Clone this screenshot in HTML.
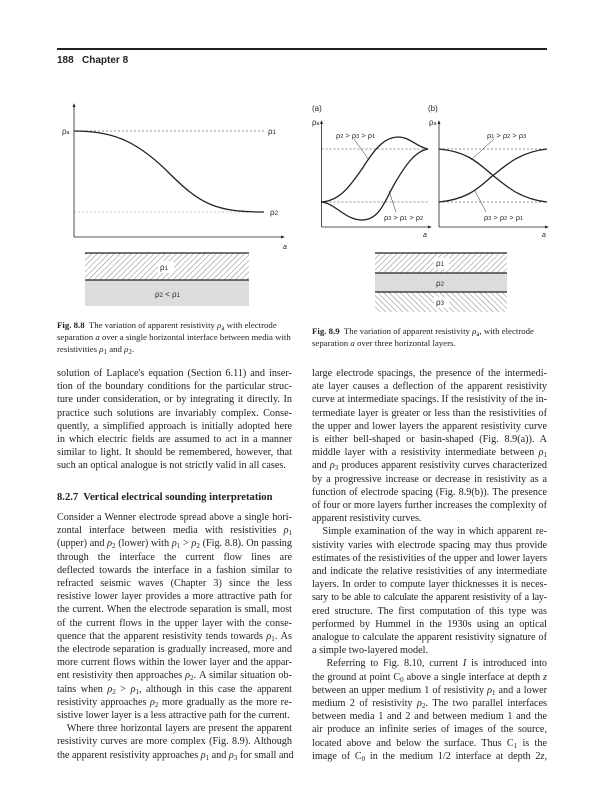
<!DOCTYPE html>
<html><head><meta charset="utf-8"><style>
body{margin:0;background:#fff;width:613px;height:800px;position:relative;overflow:hidden;font-family:"Liberation Serif",serif;color:#222}
.l{position:absolute;width:235px;font-size:10.2px;line-height:13px;white-space:nowrap;text-align:justify;text-align-last:justify;height:13px}
.e{text-align-last:left}
.c{position:absolute;font-size:8.8px;line-height:12px;white-space:nowrap}
sub{font-size:7px;vertical-align:-2px;line-height:0}
i{font-style:italic}
</style></head><body>
<div style="position:absolute;left:57px;top:48px;width:490px;height:1.5px;background:#222"></div>
<div style="position:absolute;left:57px;top:55px;font:bold 10px 'Liberation Sans',sans-serif">188&nbsp;&nbsp;&nbsp;Chapter 8</div>

<svg width="613" height="320" style="position:absolute;left:0;top:0" font-family="Liberation Sans, sans-serif" font-size="8">
<defs>
<pattern id="h1" width="4" height="4" patternUnits="userSpaceOnUse" patternTransform="rotate(45)"><line x1="0" y1="0" x2="0" y2="4" stroke="#666" stroke-width="0.8"/></pattern>
<pattern id="h2" width="4" height="4" patternUnits="userSpaceOnUse" patternTransform="rotate(-45)"><line x1="0" y1="0" x2="0" y2="4" stroke="#666" stroke-width="0.8"/></pattern>
<marker id="ar" markerWidth="5" markerHeight="5" refX="4" refY="2.5" orient="auto"><path d="M0,0.5 L5,2.5 L0,4.5z" fill="#222"/></marker>
</defs>
<g stroke="#222" fill="none">
<line x1="74" y1="237" x2="74" y2="104" marker-end="url(#ar)" stroke-width="0.8"/>
<line x1="74" y1="237" x2="284" y2="237" marker-end="url(#ar)" stroke-width="0.8"/>
<line x1="74" y1="131" x2="265" y2="131" stroke-dasharray="2,2" stroke-width="0.6"/>
<line x1="74" y1="212" x2="264" y2="212" stroke-dasharray="2,2" stroke-width="0.6" stroke="#888"/>
<path d="M74,131 C110,131 135,139 168,172 C200,204 215,212 264,212" stroke-width="1.3"/>
<line x1="321.5" y1="227" x2="321.5" y2="121" marker-end="url(#ar)" stroke-width="0.8"/>
<line x1="321.5" y1="227" x2="431" y2="227" marker-end="url(#ar)" stroke-width="0.8"/>
<line x1="321.5" y1="149" x2="428" y2="149" stroke-dasharray="2,2" stroke-width="0.6"/>
<line x1="321.5" y1="202" x2="428" y2="202" stroke-dasharray="2,2" stroke-width="0.6"/>
<path d="M321,202 C340,201 350,186 362,169 C375,148 385,137 398,137 C410,137 415,146 428,149" stroke-width="1.3"/>
<path d="M321,202 C335,203 345,220 362,220 C380,220 385,200 395,183 C405,166 415,151 428,149" stroke-width="1.3"/>
<line x1="354" y1="139" x2="369" y2="160" stroke-width="0.5"/>
<line x1="389" y1="191" x2="396" y2="212" stroke-width="0.5"/>
<line x1="439" y1="227" x2="439" y2="121" marker-end="url(#ar)" stroke-width="0.8"/>
<line x1="439" y1="227" x2="548" y2="227" marker-end="url(#ar)" stroke-width="0.8"/>
<line x1="439" y1="149" x2="547" y2="149" stroke-dasharray="2,2" stroke-width="0.6"/>
<line x1="439" y1="202" x2="547" y2="202" stroke-dasharray="2,2" stroke-width="0.6"/>
<path d="M439,149 C470,152 480,165 493,175.5 C506,186 520,199 547,202" stroke-width="1.3"/>
<path d="M439,202 C470,199 480,186 493,175.5 C506,165 520,152 547,149" stroke-width="1.3"/>
<line x1="494" y1="139" x2="471" y2="160" stroke-width="0.5"/>
<line x1="486" y1="212" x2="475" y2="191" stroke-width="0.5"/>
</g>
<g fill="#222">
<text x="62" y="134">ρ<tspan font-size="5">a</tspan></text>
<text x="268" y="134">ρ<tspan font-size="6">1</tspan></text>
<text x="270" y="215">ρ<tspan font-size="6">2</tspan></text>
<text x="283" y="249" font-style="italic" font-size="7">a</text>
<text x="312" y="111">(a)</text><text x="428" y="111">(b)</text>
<text x="312" y="125">ρ<tspan font-size="5">a</tspan></text>
<text x="429" y="125">ρ<tspan font-size="5">a</tspan></text>
<text x="336" y="138" font-size="7.5">ρ<tspan font-size="5.5">2</tspan> &gt; ρ<tspan font-size="5.5">3</tspan> &gt; ρ<tspan font-size="5.5">1</tspan></text>
<text x="384" y="220" font-size="7.5">ρ<tspan font-size="5.5">3</tspan> &gt; ρ<tspan font-size="5.5">1</tspan> &gt; ρ<tspan font-size="5.5">2</tspan></text>
<text x="487" y="138" font-size="7.5">ρ<tspan font-size="5.5">1</tspan> &gt; ρ<tspan font-size="5.5">2</tspan> &gt; ρ<tspan font-size="5.5">3</tspan></text>
<text x="484" y="220" font-size="7.5">ρ<tspan font-size="5.5">3</tspan> &gt; ρ<tspan font-size="5.5">2</tspan> &gt; ρ<tspan font-size="5.5">1</tspan></text>
<text x="423" y="237" font-style="italic" font-size="7">a</text>
<text x="542" y="237" font-style="italic" font-size="7">a</text>
</g>
<rect x="85" y="253" width="164" height="27" fill="url(#h1)"/>
<rect x="85" y="280" width="164" height="26" fill="#dcdcdc"/>
<line x1="85" y1="253" x2="249" y2="253" stroke="#222" stroke-width="1.2"/>
<line x1="85" y1="280" x2="249" y2="280" stroke="#222" stroke-width="1.2"/>
<rect x="158" y="261" width="16" height="12" fill="#fff"/>
<text x="160" y="270" fill="#222">ρ<tspan font-size="6">1</tspan></text>
<text x="155" y="297" fill="#222">ρ<tspan font-size="6">2</tspan> &lt; ρ<tspan font-size="6">1</tspan></text>
<rect x="375" y="253" width="132" height="20" fill="url(#h1)"/>
<rect x="375" y="273" width="132" height="19" fill="#dcdcdc"/>
<rect x="375" y="292" width="132" height="20" fill="url(#h2)"/>
<line x1="375" y1="253" x2="507" y2="253" stroke="#222" stroke-width="1.2"/>
<line x1="375" y1="273" x2="507" y2="273" stroke="#222" stroke-width="1.2"/>
<line x1="375" y1="292" x2="507" y2="292" stroke="#222" stroke-width="1.2"/>
<rect x="434" y="258" width="15" height="11" fill="#fff"/>
<text x="436" y="266" fill="#222">ρ<tspan font-size="6">1</tspan></text>
<text x="436" y="286" fill="#222">ρ<tspan font-size="6">2</tspan></text>
<rect x="434" y="297" width="15" height="11" fill="#fff"/>
<text x="436" y="305" fill="#222">ρ<tspan font-size="6">3</tspan></text>
</svg>

<div class="c" style="left:57px;top:319px"><b>Fig. 8.8</b>&nbsp; The variation of apparent resistivity <i>ρ</i><sub>a</sub> with electrode</div>
<div class="c" style="left:57px;top:331px">separation <i>a</i> over a single horizontal interface between media with</div>
<div class="c" style="left:57px;top:343px">resistivities <i>ρ</i><sub>1</sub> and <i>ρ</i><sub>2</sub>.</div>
<div class="c" style="left:312px;top:325px"><b>Fig. 8.9</b>&nbsp; The variation of apparent resistivity <i>ρ</i><sub>a</sub>, with electrode</div>
<div class="c" style="left:312px;top:337px">separation <i>a</i> over three horizontal layers.</div>

<div class="l" style="left:57px;top:367px">solution of Laplace's equation (Section 6.11) and inser-</div>
<div class="l" style="left:57px;top:380px">tion of the boundary conditions for the particular struc-</div>
<div class="l" style="left:57px;top:393px">ture under consideration, or by integrating it directly. In</div>
<div class="l" style="left:57px;top:407px">practice such solutions are invariably complex. Conse-</div>
<div class="l" style="left:57px;top:420px">quently, a simplified approach is initially adopted here</div>
<div class="l" style="left:57px;top:433px">in which electric fields are assumed to act in a manner</div>
<div class="l" style="left:57px;top:446px">similar to light. It should be remembered, however, that</div>
<div class="l e" style="left:57px;top:459px">such an optical analogue is not strictly valid in all cases.</div>
<div class="l e" style="left:57px;top:491px;font-weight:bold;font-size:10.6px">8.2.7&nbsp; Vertical electrical sounding interpretation</div>
<div class="l" style="left:57px;top:511px">Consider a Wenner electrode spread above a single hori-</div>
<div class="l" style="left:57px;top:524px">zontal interface between media with resistivities <i>ρ</i><sub>1</sub></div>
<div class="l" style="left:57px;top:537px">(upper) and <i>ρ</i><sub>2</sub> (lower) with <i>ρ</i><sub>1</sub> &gt; <i>ρ</i><sub>2</sub> (Fig. 8.8). On passing</div>
<div class="l" style="left:57px;top:551px">through the interface the current flow lines are</div>
<div class="l" style="left:57px;top:564px">deflected towards the interface in a fashion similar to</div>
<div class="l" style="left:57px;top:577px">refracted seismic waves (Chapter 3) since the less</div>
<div class="l" style="left:57px;top:590px">resistive lower layer provides a more attractive path for</div>
<div class="l" style="left:57px;top:603px">the current. When the electrode separation is small, most</div>
<div class="l" style="left:57px;top:617px">of the current flows in the upper layer with the conse-</div>
<div class="l" style="left:57px;top:630px">quence that the apparent resistivity tends towards <i>ρ</i><sub>1</sub>. As</div>
<div class="l" style="left:57px;top:643px">the electrode separation is gradually increased, more and</div>
<div class="l" style="left:57px;top:656px">more current flows within the lower layer and the appar-</div>
<div class="l" style="left:57px;top:669px">ent resistivity then approaches <i>ρ</i><sub>2</sub>. A similar situation ob-</div>
<div class="l" style="left:57px;top:683px">tains when <i>ρ</i><sub>2</sub> &gt; <i>ρ</i><sub>1</sub>, although in this case the apparent</div>
<div class="l" style="left:57px;top:696px">resistivity approaches <i>ρ</i><sub>2</sub> more gradually as the more re-</div>
<div class="l e" style="left:57px;top:709px">sistive lower layer is a less attractive path for the current.</div>
<div class="l" style="left:57px;top:722px">&nbsp;&nbsp;&nbsp;Where three horizontal layers are present the apparent</div>
<div class="l" style="left:57px;top:735px">resistivity curves are more complex (Fig. 8.9). Although</div>
<div class="l" style="left:57px;top:749px">the apparent resistivity approaches <i>ρ</i><sub>1</sub> and <i>ρ</i><sub>3</sub> for small and</div>

<div class="l" style="left:312px;top:367px">large electrode spacings, the presence of the intermedi-</div>
<div class="l" style="left:312px;top:380px">ate layer causes a deflection of the apparent resistivity</div>
<div class="l" style="left:312px;top:393px">curve at intermediate spacings. If the resistivity of the in-</div>
<div class="l" style="left:312px;top:407px">termediate layer is greater or less than the resistivities of</div>
<div class="l" style="left:312px;top:420px">the upper and lower layers the apparent resistivity curve</div>
<div class="l" style="left:312px;top:433px">is either bell-shaped or basin-shaped (Fig. 8.9(a)). A</div>
<div class="l" style="left:312px;top:446px">middle layer with a resistivity intermediate between <i>ρ</i><sub>1</sub></div>
<div class="l" style="left:312px;top:459px">and <i>ρ</i><sub>3</sub> produces apparent resistivity curves characterized</div>
<div class="l" style="left:312px;top:473px">by a progressive increase or decrease in resistivity as a</div>
<div class="l" style="left:312px;top:486px">function of electrode spacing (Fig. 8.9(b)). The presence</div>
<div class="l" style="left:312px;top:499px">of four or more layers further increases the complexity of</div>
<div class="l e" style="left:312px;top:512px">apparent resistivity curves.</div>
<div class="l" style="left:312px;top:525px">&nbsp;&nbsp;&nbsp;Simple examination of the way in which apparent re-</div>
<div class="l" style="left:312px;top:539px">sistivity varies with electrode spacing may thus provide</div>
<div class="l" style="left:312px;top:552px">estimates of the resistivities of the upper and lower layers</div>
<div class="l" style="left:312px;top:565px">and indicate the relative resistivities of any intermediate</div>
<div class="l" style="left:312px;top:578px">layers. In order to compute layer thicknesses it is neces-</div>
<div class="l" style="left:312px;top:591px;letter-spacing:-0.2px">sary to be able to calculate the apparent resistivity of a lay-</div>
<div class="l" style="left:312px;top:605px">ered structure. The first computation of this type was</div>
<div class="l" style="left:312px;top:618px">performed by Hummel in the 1930s using an optical</div>
<div class="l" style="left:312px;top:631px">analogue to calculate the apparent resistivity signature of</div>
<div class="l e" style="left:312px;top:644px">a simple two-layered model.</div>
<div class="l" style="left:312px;top:657px">&nbsp;&nbsp;&nbsp;Referring to Fig. 8.10, current <i>I</i> is introduced into</div>
<div class="l" style="left:312px;top:671px">the ground at point C<sub>0</sub> above a single interface at depth <i>z</i></div>
<div class="l" style="left:312px;top:684px">between an upper medium 1 of resistivity <i>ρ</i><sub>1</sub> and a lower</div>
<div class="l" style="left:312px;top:697px">medium 2 of resistivity <i>ρ</i><sub>2</sub>. The two parallel interfaces</div>
<div class="l" style="left:312px;top:710px">between media 1 and 2 and between medium 1 and the</div>
<div class="l" style="left:312px;top:723px">air produce an infinite series of images of the source,</div>
<div class="l" style="left:312px;top:737px">located above and below the surface. Thus C<sub>1</sub> is the</div>
<div class="l" style="left:312px;top:750px">image of C<sub>0</sub> in the medium 1/2 interface at depth 2<i>z</i>,</div>
</body></html>
